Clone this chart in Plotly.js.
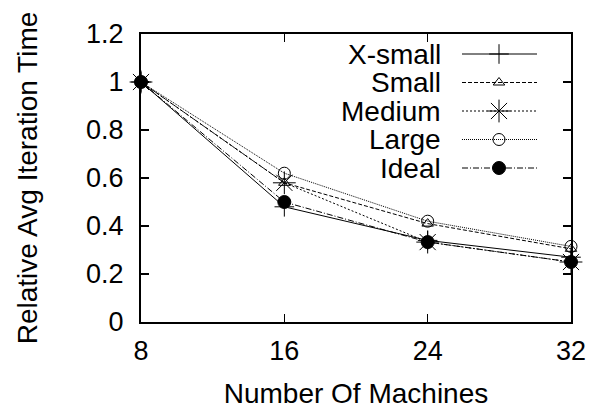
<!DOCTYPE html>
<html><head><meta charset="utf-8">
<script src="https://cdn.plot.ly/plotly-3.0.1.min.js"></script>
<style>html,body{margin:0;padding:0;background:#fff}</style>
</head><body><div id="chart" style="width:593px;height:412px"></div>
<script>
const machines = [8, 16, 24, 32];
const seriesNames = ["X-small", "Small", "Medium", "Large", "Ideal"];
const xsmall = [1, 0.48, 0.34, 0.27];
const small = [1, 0.58, 0.41, 0.305];
const medium = [1, 0.58, 0.333, 0.25];
const large = [1, 0.62, 0.42, 0.315];
const ideal = [1, 0.5, 0.333, 0.25];
const yTicks = [0, 0.2, 0.4, 0.6, 0.8, 1, 1.2];
const yTickText = ["0", "0.2", "0.4", "0.6", "0.8", "1", "1.2"];

const styles = [
  {dash: "solid", symbol: "cross-thin-open", size: 14, color: "#000"},
  {dash: "4px,2px", symbol: "triangle-up-open", size: 10, color: "#000"},
  {dash: "2px,2px", symbol: "asterisk-open", size: 19, color: "#000"},
  {dash: "1px,1px", symbol: "circle-open", size: 12, color: "#000"},
  {dash: "6px,2px,1px,2px", symbol: "circle", size: 13, color: "#000"}
];
const values = [xsmall, small, medium, large, ideal];

const traces = [];
values.forEach((v, i) => {
  const s = styles[i];
  traces.push({
    x: machines, y: v, type: "scatter", mode: "lines+markers", name: seriesNames[i],
    showlegend: false, cliponaxis: false,
    line: {color: s.color, width: 1, dash: s.dash},
    marker: {symbol: s.symbol, size: s.size, color: s.color, line: {color: s.color, width: 1}}
  });
});

// Legend drawn gnuplot-style (text right-aligned, sample to the right), on an overlay axis
// whose units are page pixels.
const legendRowY = [54, 82.5, 111, 139.5, 168];
const legendTextRight = 443;
const legendSample = [462, 499, 537];
const annotations = [];
const font = {family: "Liberation Sans, Arial, sans-serif", size: 27, color: "#000"};
const titleFont = {family: "Liberation Sans, Arial, sans-serif", size: 28, color: "#000"};
seriesNames.forEach((n, i) => {
  const s = styles[i];
  const yy = legendRowY[i];
  traces.push({
    x: legendSample, y: [yy, yy, yy], xaxis: "x2", yaxis: "y2",
    type: "scatter", mode: "lines", showlegend: false, hoverinfo: "skip",
    line: {color: s.color, width: 1, dash: s.dash}
  });
  traces.push({
    x: [legendSample[1]], y: [yy], xaxis: "x2", yaxis: "y2",
    type: "scatter", mode: "markers", showlegend: false, hoverinfo: "skip",
    marker: {symbol: s.symbol, size: s.size, color: s.color, line: {color: s.color, width: 1}}
  });
  annotations.push({
    text: n, xref: "x2", yref: "y2", x: legendTextRight, y: yy, xanchor: "right", yanchor: "middle",
    showarrow: false, font: titleFont
  });
});

const layout = {
  width: 593, height: 412,
  margin: {l: 141, r: 22, t: 34, b: 90},
  paper_bgcolor: "#fff", plot_bgcolor: "rgba(0,0,0,0)",
  font: font,
  showlegend: false,
  xaxis: {
    range: [8, 32], tickvals: machines, ticktext: machines.map(String),
    ticks: "inside", ticklen: 8, tickwidth: 1.5, tickcolor: "#000",
    showline: true, linecolor: "#000", linewidth: 2, mirror: "ticks",
    showgrid: false, zeroline: false, ticklabelstandoff: 4,
    tickfont: font,
    title: {text: "Number Of Machines", font: titleFont, standoff: 18}
  },
  yaxis: {
    range: [0, 1.2], tickvals: yTicks, ticktext: yTickText,
    ticks: "inside", ticklen: 8, tickwidth: 1.5, tickcolor: "#000",
    showline: true, linecolor: "#000", linewidth: 2, mirror: "ticks",
    showgrid: false, zeroline: false, ticklabelstandoff: 10,
    tickfont: font,
    title: {text: "Relative Avg Iteration Time", font: titleFont, standoff: 40}
  },
  xaxis2: {domain: [0, 1], range: [141, 571], visible: false, anchor: "y2", overlaying: "x"},
  yaxis2: {domain: [0, 1], range: [322, 34], visible: false, anchor: "x2", overlaying: "y"},
  annotations: annotations
};
Plotly.newPlot("chart", traces, layout, {displayModeBar: false, staticPlot: true});
</script></body></html>
